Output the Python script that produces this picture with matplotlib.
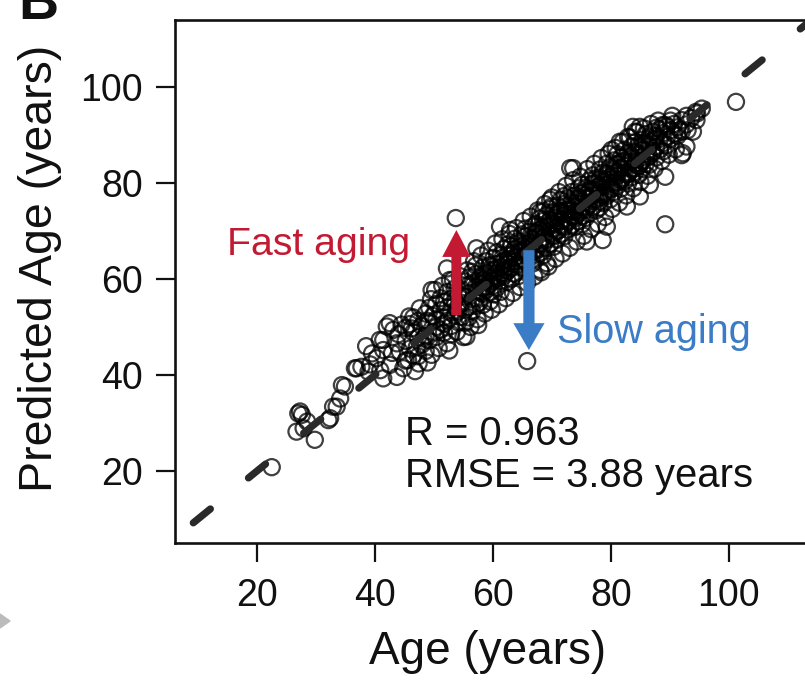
import matplotlib
matplotlib.use("Agg")
import matplotlib.pyplot as plt
from matplotlib.patches import FancyArrow, Polygon
import numpy as np

plt.rcParams['font.family'] = ['Liberation Sans', 'DejaVu Sans']

# ---------------- data ----------------
ages_young = [22.5, 27.0, 27.3, 27.6, 26.7, 27.9, 29.8, 28.5, 32.1, 32.9, 32.4, 33.5,
              34.1, 34.4, 34.9, 36.6, 36.9, 37.7, 38.9, 38.5, 39.5, 40.3, 40.8, 41.4,
              41.4, 42.0, 42.5, 42.5, 43.1, 43.7, 43.7, 44.2, 44.8, 45.6, 47.1, 48.2,
              49.6, 50.2, 41.4, 39.2, 40.9, 42.9, 44.0, 46.2, 47.4, 48.8]
pred_young = [20.8, 32.0, 32.4, 31.7, 28.2, 28.9, 26.5, 30.3, 30.6, 33.4, 31.0, 33.4,
              35.1, 37.9, 37.6, 41.4, 41.4, 41.7, 40.7, 46.0, 44.5, 43.5, 47.3, 47.3,
              45.2, 50.1, 42.1, 50.8, 49.4, 46.6, 39.6, 44.9, 41.4, 43.1, 45.9, 47.6,
              44.2, 57.7, 39.3, 42.2, 41.0, 44.6, 48.5, 49.7, 42.4, 51.3]

ages_a = [45.2, 45.2, 45.2, 45.9, 45.9, 46.5, 46.5, 46.5, 47.3, 47.3, 47.3, 47.9, 47.9,
          48.6, 48.6, 48.6, 49.2, 49.2, 49.2, 49.8, 49.8, 50.4, 50.4, 50.4, 50.4,
          51.1, 51.1, 51.1, 51.7, 51.7, 51.7, 51.7, 52.3, 52.3, 52.3, 52.9, 52.9, 52.9, 52.9,
          53.5, 53.5, 53.5, 54.1, 54.1, 54.1, 54.1, 54.7, 54.7, 54.7, 55.3, 55.3, 55.3, 55.3]
pred_a = [47.1, 43.0, 49.8, 45.5, 50.6, 48.9, 44.1, 52.0, 47.8, 51.3, 43.9, 50.2, 46.3,
          52.8, 48.1, 45.0, 50.9, 47.2, 54.0, 49.0, 52.3, 51.6, 54.8, 47.9, 50.0,
          53.5, 49.4, 56.0, 52.0, 55.2, 48.8, 50.7, 54.1, 51.3, 57.3, 53.0, 50.2, 55.8, 48.5,
          55.5, 52.4, 58.0, 54.3, 51.0, 56.9, 53.2, 57.8, 55.0, 52.1, 56.4, 53.6, 59.5, 50.9]

ages_b = [55.9]*5 + [56.5]*4 + [57.1]*5 + [57.7]*4 + [58.3]*5 + [58.9]*4 + [59.5]*5 + \
         [60.1]*5 + [60.7]*4 + [61.3]*5 + [61.9]*4 + [62.5]*5 + [63.1]*4 + [63.7]*5 + \
         [64.3]*4 + [64.9]*5
pred_b = [57.0, 54.2, 60.3, 52.0, 58.8,
          55.8, 59.1, 53.3, 61.5,
          58.3, 56.0, 61.0, 54.4, 62.8,
          57.4, 60.2, 55.1, 59.0,
          59.8, 56.9, 62.4, 54.6, 58.1,
          61.2, 57.8, 59.6, 63.7,
          60.1, 57.2, 62.9, 55.3, 59.0,
          61.9, 58.6, 64.4, 60.5, 56.8,
          60.0, 63.1, 58.2, 65.6,
          62.5, 59.6, 65.0, 61.1, 57.3,
          63.8, 60.7, 66.3, 62.0,
          61.7, 64.9, 59.4, 67.2, 63.3,
          65.0, 62.2, 60.0, 66.8,
          63.6, 66.2, 61.1, 68.4, 64.5,
          65.7, 62.8, 67.9, 60.6,
          64.1, 67.0, 62.5, 69.3, 65.8]

ages_c = [65.5]*6 + [66.1]*4 + [66.7]*5 + [67.3]*5 + [67.9]*4 + [68.5]*6 + [69.1]*4 + \
         [69.7]*5 + [70.3]*5 + [70.9]*5 + [71.5]*5 + [72.1]*6 + [72.7]*4 + [73.3]*5 + \
         [73.9]*5 + [74.5]*5
pred_c = [66.4, 63.8, 68.9, 65.0, 61.9, 70.5,
          67.5, 64.6, 69.8, 66.0,
          65.7, 68.3, 63.2, 70.9, 67.1,
          68.8, 66.0, 71.5, 64.1, 69.6,
          67.4, 70.2, 65.5, 72.6,
          69.9, 67.0, 72.1, 64.9, 68.6, 74.0,
          70.8, 68.1, 73.3, 66.4,
          69.5, 72.4, 67.3, 74.6, 71.0,
          71.6, 68.9, 74.0, 66.7, 70.5,
          72.9, 70.0, 75.3, 68.2, 73.6,
          71.3, 74.2, 69.4, 76.5, 72.0,
          73.7, 70.8, 75.6, 68.9, 72.4, 77.3,
          74.5, 71.9, 76.8, 70.3,
          73.1, 75.9, 71.2, 78.1, 74.4,
          75.2, 72.6, 77.4, 70.8, 74.0,
          76.6, 73.8, 78.9, 72.0, 75.5]

ages_d = [75.1]*6 + [75.7]*4 + [76.3]*5 + [76.9]*5 + [77.5]*4 + [78.1]*6 + [78.7]*4 + \
         [79.3]*5 + [79.9]*5 + [80.5]*4 + [81.1]*5 + [81.7]*4 + [82.3]*5 + [82.9]*4 + \
         [83.5]*5 + [84.1]*4
pred_d = [75.0, 77.8, 73.1, 79.6, 76.3, 71.4,
          76.9, 74.4, 79.0, 72.7,
          78.2, 75.5, 80.5, 73.6, 77.0,
          77.4, 79.9, 75.0, 81.6, 78.6,
          79.1, 76.5, 81.0, 74.3,
          78.0, 80.7, 76.2, 82.8, 79.4, 74.9,
          80.2, 77.6, 82.2, 75.8,
          79.5, 81.9, 77.3, 84.0, 80.6,
          81.3, 78.7, 83.3, 76.6, 80.0,
          82.6, 80.0, 84.7, 78.1,
          81.5, 83.9, 79.4, 86.0, 82.4,
          83.2, 80.6, 85.3, 78.8,
          82.0, 84.6, 80.3, 86.9, 83.5,
          84.3, 81.8, 86.2, 79.9,
          85.6, 83.0, 87.6, 81.2, 84.5,
          84.0, 86.4, 82.3, 88.5]

ages_e = [84.7]*4 + [85.3]*4 + [85.9]*4 + [86.5]*4 + [87.1]*3 + [87.7]*4 + [88.3]*3 + \
         [88.9]*3 + [89.5]*3 + [90.1]*3 + [90.7]*2 + [91.3]*2 + [92.0]*2 + [92.8]*2 + \
         [93.6, 94.4, 94.6, 95.4]
pred_e = [85.8, 83.5, 87.9, 81.7,
          86.9, 84.6, 89.0, 82.9,
          86.1, 88.3, 84.0, 90.2,
          87.7, 85.5, 89.6, 83.8,
          88.9, 86.6, 90.7,
          87.5, 89.8, 85.3, 91.5,
          89.2, 87.0, 91.2,
          90.4, 88.3, 86.6,
          89.6, 91.8, 87.9,
          91.0, 89.2, 93.0,
          90.2, 92.3,
          91.6, 89.8,
          93.1, 90.7,
          92.2, 94.0,
          93.5, 94.8, 94.5, 95.5]

# wider scatter at the band's edges
ages_wide = [44.5, 45.8, 46.8, 47.6, 48.9, 49.5, 50.8, 51.4, 52.6, 53.2, 53.9, 54.4, 55.0, 55.6,
             56.2, 56.8, 57.4, 58.0, 58.6, 59.2, 59.8, 60.4, 61.0, 61.6, 62.2, 62.8, 63.4, 64.0,
             64.6, 65.2, 65.8, 66.4, 67.0, 67.6, 68.2, 68.8, 69.4, 70.0,
             70.6, 71.2, 71.8, 72.4, 73.0, 73.6, 74.2, 74.8, 75.4, 76.0, 76.6, 77.2, 77.8, 78.4,
             79.0, 79.6, 80.2, 80.8, 81.4, 82.0, 82.6, 83.2, 83.8, 84.4, 85.0, 85.6, 86.2, 86.8,
             87.4, 88.0, 88.6, 89.8, 90.4, 91.0]
pred_wide = [50.5, 52.2, 40.8, 53.9, 42.6, 55.8, 45.6, 58.6, 45.1, 59.8, 49.0, 60.6, 47.9, 61.8,
             50.0, 63.7, 51.6, 64.9, 52.8, 65.9, 53.6, 67.4, 54.7, 68.3, 56.0, 69.4, 57.1, 70.6,
             58.3, 72.1, 59.2, 73.0, 60.5, 74.3, 61.4, 75.6, 62.6, 77.0,
             64.2, 78.1, 65.3, 79.4, 66.5, 80.6, 67.8, 81.3, 69.0, 82.9, 70.4, 84.0, 71.5, 85.2,
             72.9, 86.1, 74.6, 87.3, 75.9, 88.6, 77.4, 89.5, 78.9, 90.6, 80.2, 91.4, 81.5, 92.3,
             83.0, 93.0, 84.6, 85.9, 94.0, 87.0]

# extra points in the dense centre of the band
ages_mid = [58.0, 58.5, 59.0, 59.5, 60.0, 60.5, 61.0, 61.5, 62.0, 62.5, 63.0, 63.5, 64.0, 64.5,
            65.0, 65.5, 66.0, 66.5, 67.0, 67.5, 68.0, 68.5, 69.0, 69.5, 70.0, 70.5, 71.0, 71.5,
            72.0, 72.5, 73.0, 73.5, 74.0, 74.5, 75.0, 75.5, 76.0, 76.5, 77.0, 77.5, 78.0, 78.5,
            79.0, 79.5, 80.0, 80.5, 81.0, 81.5, 82.0, 82.5, 83.0, 83.5, 84.0, 84.5, 85.0, 85.5,
            86.0, 86.5, 87.0, 87.5]
pred_mid = [57.1, 60.9, 58.4, 61.7, 59.6, 62.2, 60.3, 63.5, 61.2, 64.1, 62.4, 65.3, 63.0, 66.6,
            64.2, 67.3, 65.1, 68.5, 66.0, 69.7, 67.2, 70.6, 68.3, 71.4, 69.0, 72.6, 70.1, 73.8,
            71.0, 74.4, 72.3, 75.6, 73.1, 76.9, 74.2, 77.5, 75.0, 78.6, 76.3, 79.8, 77.0, 80.5,
            78.1, 81.7, 79.2, 82.0, 80.1, 83.1, 81.0, 84.4, 82.2, 85.1, 83.0, 86.2, 84.1, 87.0,
            85.3, 88.1, 86.2, 89.0]

# edge points and outliers read individually
ages_edge = [52.2, 52.7, 49.6, 57.2, 61.2, 62.9, 69.9, 68.0, 57.5, 55.5, 52.2, 68.0,
             69.1, 73.1, 73.6, 84.9, 84.1, 89.2, 91.7, 92.8, 92.0, 89.2, 86.6, 84.9,
             82.7, 79.3, 75.9, 78.6, 69.7, 94.5, 93.9, 80.1, 81.5, 82.9, 83.7, 88.8,
             92.2, 93.0, 53.7, 65.8, 89.2, 101.2]
pred_edge = [62.2, 59.8, 57.7, 66.4, 70.9, 70.2, 75.1, 74.0, 50.4, 48.0, 46.6, 61.9,
             63.3, 83.1, 83.1, 91.7, 90.7, 92.1, 91.0, 87.6, 85.8, 81.3, 79.6, 77.2,
             75.1, 70.9, 67.8, 68.1, 76.5, 93.1, 90.7, 86.9, 88.6, 89.6, 91.7, 92.1,
             86.2, 91.0, 72.7, 42.9, 71.4, 96.9]

ages = np.array(ages_young + ages_a + ages_b + ages_c + ages_d + ages_e +
                ages_wide + ages_mid + ages_edge)
pred = np.array(pred_young + pred_a + pred_b + pred_c + pred_d + pred_e +
                pred_wide + pred_mid + pred_edge)

x_ticks = [20, 40, 60, 80, 100]
y_ticks = [20, 40, 60, 80, 100]
r_value = 0.963
rmse_value = 3.88

# ---------------- figure ----------------
W, H = 805, 688
fig = plt.figure(figsize=(W / 100, H / 100), dpi=100)
ax = fig.add_axes([175 / W, 1 - 543 / H, 1 - 175 / W + 0.01, (543 - 20) / H])

ax.set_xlim(6.1, 112.9 + 0.01 * W / 5.9)
ax.set_ylim(5.0, 113.96)

ax.scatter(ages, pred, s=135, facecolors='none', edgecolors=(0, 0, 0, 0.75),
           linewidths=1.6, zorder=2)

ident = np.array([9.2, 125.0])
ax.plot(ident, ident, color='#2a2a2a', lw=5.2, dashes=(3.05, 6.8),
        dash_capstyle='round', solid_capstyle='round', zorder=3)

# arrows
ax.add_patch(FancyArrow(53.8, 52.5, 0, 70.2 - 52.5, width=1.7, head_width=4.8,
                        head_length=5.6, length_includes_head=True,
                        color='#C21A33', lw=0, zorder=4))
ax.add_patch(FancyArrow(66.1, 66.0, 0, 45.2 - 66.0, width=1.9, head_width=5.3,
                        head_length=5.6, length_includes_head=True,
                        color='#3A7CC6', lw=0, zorder=4))

ax.text(14.9, 65.0, 'Fast aging', color='#C21A33', fontsize=28.3, va='baseline', ha='left')
ax.text(70.8, 46.7, 'Slow aging', color='#3A7CC6', fontsize=28.5, va='baseline', ha='left')
ax.text(45.1, 25.4, f'R = {r_value:.3f}', color='#111111', fontsize=28.8,
        va='baseline', ha='left')
ax.text(45.1, 16.7, f'RMSE = {rmse_value:.2f} years', color='#111111', fontsize=28.8,
        va='baseline', ha='left')

ax.set_xticks(x_ticks)
ax.set_yticks(y_ticks)
ax.tick_params(axis='both', direction='out', length=14, width=1.6, labelsize=27,
               colors='#111111')
ax.tick_params(axis='x', pad=11)
ax.tick_params(axis='y', pad=9)
for s in ['left', 'bottom', 'top']:
    ax.spines[s].set_linewidth(1.9)
    ax.spines[s].set_color('#111111')
ax.spines['right'].set_visible(False)

fig.text(488 / W, 1 - 652 / H, 'Age (years)', fontsize=33, ha='center', va='center',
         color='#111111')
fig.text(40 / W, 1 - 268 / H, 'Predicted Age (years)', fontsize=33.5, ha='center',
         va='center', rotation=90, color='#111111')

# partially visible panel letter and grey marker at left
fig.text(18 / W, 1 - 19 / H, 'B', fontsize=40, fontweight='bold', ha='left',
         va='baseline', color='#111111')
fig.patches.append(Polygon([[0, 1 - 614 / H], [10 / W, 1 - 621 / H], [0, 1 - 628 / H]],
                           closed=True, transform=fig.transFigure, color='#BBBBBB',
                           figure=fig))

fig.savefig('out.png', dpi=100)
